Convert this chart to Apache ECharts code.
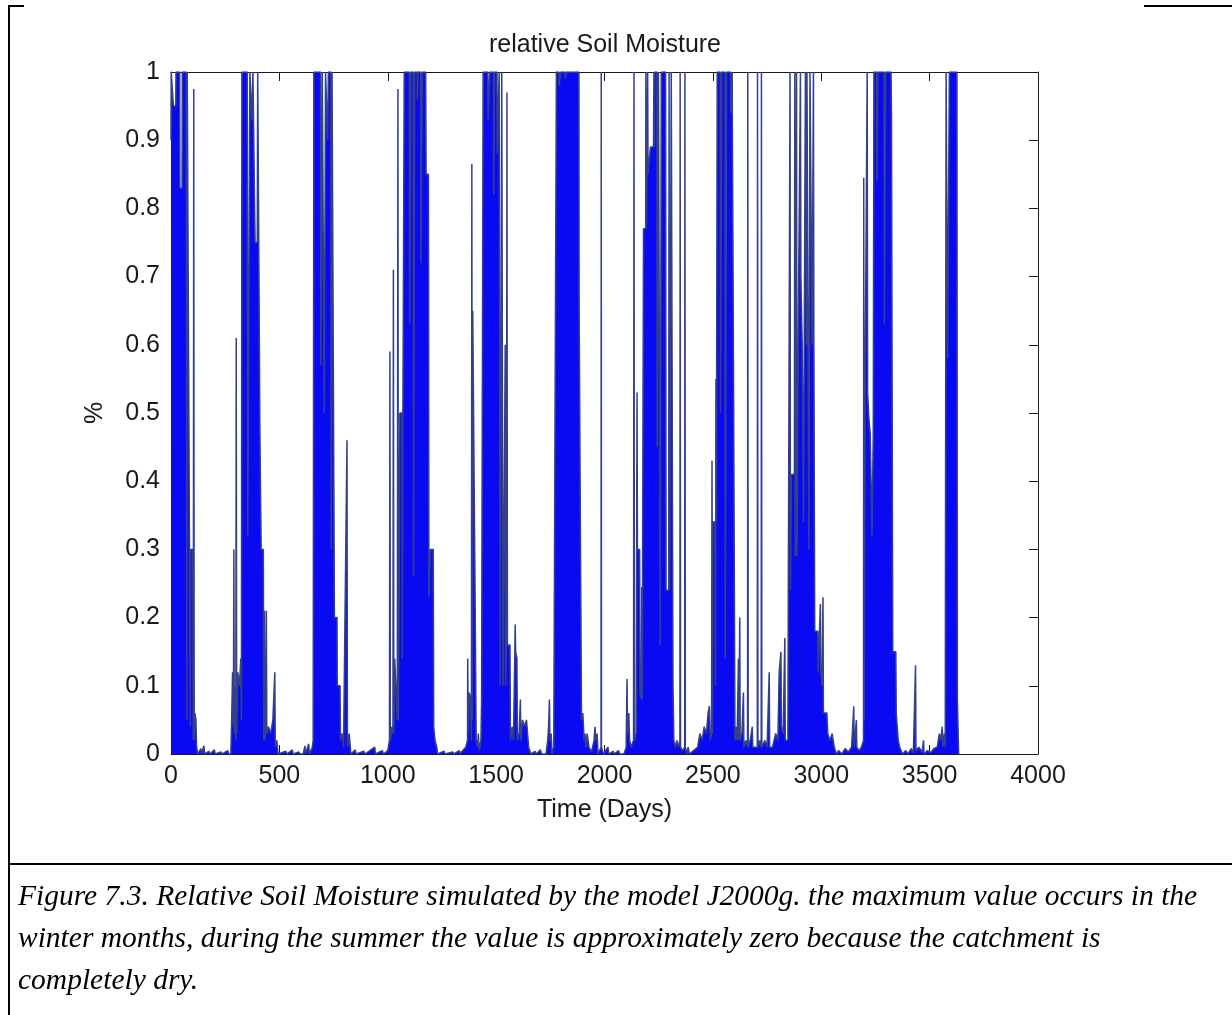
<!DOCTYPE html>
<html>
<head>
<meta charset="utf-8">
<title>relative Soil Moisture</title>
<script src="https://cdn.jsdelivr.net/npm/echarts@6/dist/echarts.min.js"></script>
<style>
  html, body { margin: 0; padding: 0; background: #ffffff; }
  #chart { width: 1232px; height: 1015px; }
</style>
</head>
<body>
<div id="chart"></div>
<script>
// Relative soil moisture [day, fraction] simulated by J2000g, one array per hydrological year.
const soilYear1 = [[0,0.9],[1,1],[10,1],[11,0.95],[22,0.95],[23,1],[40,1],[41,0.83],[51,0.83],[52,1],[71,1],[73,0.05],[75,1],[79,1],[80,0.66],[87,0.66],[89,0.04],[91,0.3],[101,0.3],[103,0.02],[105,0.975],[107,0.02],[110,0.06],[115,0.05],[118,0.01],[124,0],[138,0.008],[141,0],[152,0.012],[155,0],[175,0.004],[180,0],[200,0.006],[204,0],[230,0.003],[236,0],[262,0.005],[266,0]];
const soilYear2 = [[276,0],[280,0.05],[284,0.12],[288,0.04],[290,0.3],[292,0.03],[296,0.1],[299,0.02],[301,0.61],[303,0.03],[308,0.12],[316,0.1],[322,0.14],[325,0.05],[327,1],[352,1],[354,0.32],[362,0.32],[364,1],[372,1],[373,0.93],[377,0.93],[378,1],[386,1],[388,0.75],[398,0.75],[400,1],[408,1],[410,0.48],[414,0.48],[416,0.3],[426,0.3],[428,0.02],[431,0.21],[433,0.02],[437,0.04],[440,0.21],[442,0.03],[450,0.04],[460,0.03],[470,0.05],[479,0.12],[481,0.01],[488,0.02],[494,0],[530,0.004],[534,0],[560,0.006],[563,0],[590,0.003],[594,0]];
const soilYear3 = [[610,0],[618,0.012],[621,0],[635,0.015],[639,0],[652,0.01],[656,0.02],[659,1],[690,1],[691,0.57],[697,0.57],[698,1],[706,1],[707,0.5],[712,0.5],[713,1],[722,1],[723,0.9],[725,0.9],[726,1],[738,1],[739,0.3],[742,0.3],[743,1],[752,1],[754,0.2],[766,0.2],[767,0.1],[780,0.1],[782,0.02],[790,0.03],[796,0.01],[812,0.46],[814,0.01],[822,0.03],[830,0],[850,0.006],[854,0],[890,0.004],[895,0],[940,0.01],[943,0],[975,0.005],[980,0]];
const soilYear4 = [[1000,0.005],[1008,0.02],[1010,0.59],[1012,0.02],[1018,0.04],[1024,0.03],[1026,0.71],[1028,0.03],[1032,0.14],[1040,0.14],[1044,0.05],[1047,0.975],[1049,0.05],[1052,0.2],[1056,0.5],[1066,0.5],[1067,0.14],[1070,0.5],[1074,0.5],[1076,1],[1100,1],[1101,0.63],[1106,0.63],[1107,1],[1118,1],[1119,0.26],[1123,0.26],[1124,1],[1136,1],[1137,0.96],[1139,0.96],[1140,1],[1152,1],[1153,0.72],[1158,0.72],[1159,1],[1175,1],[1177,0.85],[1188,0.85],[1190,0.23],[1194,0.23],[1196,0.3],[1210,0.3],[1212,0.04],[1218,0.02],[1226,0.01],[1230,0],[1260,0.004],[1264,0],[1300,0.003],[1305,0],[1330,0.005],[1334,0]];
const soilYear5 = [[1340,0.003],[1360,0.01],[1368,0.02],[1369,0.14],[1371,0.03],[1376,0.09],[1382,0.08],[1386,0.02],[1388,0.865],[1390,0.05],[1392,0.65],[1400,0.65],[1402,0.27],[1406,0.27],[1408,0.02],[1414,0.01],[1418,0.03],[1422,0.005],[1430,0.02],[1433,0.08],[1438,0.08],[1440,1],[1462,1],[1463,0.93],[1470,0.93],[1471,1],[1488,1],[1489,0.82],[1492,0.82],[1493,1],[1504,1],[1505,0.88],[1512,0.88],[1514,1],[1518,1],[1519,0.1],[1524,0.1],[1526,1],[1530,1],[1532,0.1],[1540,0.1],[1542,0.6],[1544,0.1],[1548,0.16],[1550,0.97],[1552,0.16],[1564,0.16],[1566,0.02],[1574,0.04],[1580,0.02],[1588,0.19],[1590,0.15],[1596,0.14],[1598,0.02],[1606,0.03],[1612,0.08],[1614,0.02],[1622,0.05],[1630,0.04],[1640,0.05],[1650,0.01],[1660,0],[1680,0.004],[1684,0],[1705,0.006],[1709,0]];
const soilYear6 = [[1730,0],[1738,0.02],[1742,0.04],[1746,0.08],[1748,0.02],[1754,0.03],[1758,0],[1766,0.01],[1770,0.35],[1777,0.35],[1778,1],[1790,1],[1791,0.98],[1796,0.98],[1797,1],[1818,1],[1819,0.99],[1823,0.99],[1824,1],[1882,1],[1883,0.65],[1892,0.65],[1894,0.05],[1900,0.06],[1906,0.02],[1910,0.03],[1914,0.01],[1920,0.03],[1928,0.01],[1940,0.003],[1952,0.02],[1956,0.04],[1960,0.02],[1966,0.03],[1970,0],[1984,0.01],[1985,1],[1986,0.01],[1995,0],[2016,0.01],[2020,0],[2040,0.004],[2045,0],[2065,0.005],[2070,0]];
const soilYear7 = [[2090,0],[2100,0.01],[2104,0.11],[2106,0.03],[2112,0.06],[2116,0.02],[2122,0.01],[2134,0.02],[2136,1],[2138,0.02],[2146,0.03],[2150,0.53],[2152,0.3],[2162,0.3],[2164,0.09],[2170,0.08],[2172,0.245],[2174,0.08],[2180,0.77],[2190,0.77],[2191,1],[2193,0.77],[2196,0.85],[2199,1],[2201,0.85],[2210,0.85],[2212,0.89],[2226,0.89],[2228,1],[2230,0.89],[2232,1],[2242,1],[2243,0.45],[2248,0.45],[2249,1],[2256,1],[2257,0.16],[2261,0.16],[2262,1],[2282,1],[2284,0.24],[2296,0.24],[2298,1],[2300,0.24],[2306,0.24],[2308,1],[2312,1],[2316,0.1],[2320,0.02],[2326,0.01],[2334,0.02],[2340,0.01],[2348,0.02],[2349,1],[2351,0.01],[2360,0.005],[2370,0.01],[2371,1],[2373,0.01],[2380,0],[2386,0.01],[2392,0]];
const soilYear8 = [[2400,0],[2430,0.01],[2440,0.03],[2450,0.02],[2460,0.04],[2470,0.03],[2478,0.06],[2484,0.07],[2488,0.02],[2494,0.03],[2496,0.43],[2498,0.03],[2500,0.34],[2510,0.34],[2512,0.1],[2514,0.55],[2516,0.34],[2520,1],[2534,1],[2535,0.5],[2540,0.5],[2541,1],[2556,1],[2557,0.14],[2562,0.14],[2563,1],[2582,1],[2583,0.94],[2588,0.94],[2589,1],[2594,1],[2596,0.5],[2600,0.5],[2602,0.02],[2606,0.04],[2612,0.02],[2618,0.14],[2620,0.02],[2624,0.2],[2626,0.02],[2634,0.03],[2641,0.09],[2643,0.01],[2652,0.02],[2660,0.01],[2661,1],[2663,0.01],[2672,0.02],[2682,0.04],[2684,0.01],[2695,0.01],[2705,0.01],[2706,1],[2708,0.01],[2716,0.02],[2723,0.01],[2724,1],[2726,0.01],[2740,0.02],[2750,0.01],[2760,0.12],[2762,0.01],[2775,0.01],[2790,0.03],[2800,0.02],[2806,0.12],[2812,0.12],[2814,0.15],[2816,0.04],[2824,0.03],[2832,0.17],[2834,0.02],[2842,0.02]];
const soilYear9 = [[2846,0.02],[2848,0.24],[2854,0.24],[2856,1],[2858,0.24],[2862,0.41],[2876,0.41],[2878,1],[2880,0.29],[2884,0.29],[2886,1],[2888,0.29],[2894,0.29],[2896,0.7],[2902,0.7],[2904,1],[2906,0.7],[2910,0.7],[2912,0.6],[2918,0.34],[2926,0.34],[2927,1],[2930,1],[2932,0.6],[2934,1],[2942,1],[2943,0.3],[2946,0.3],[2948,1],[2956,1],[2958,0.6],[2962,0.6],[2964,1],[2966,0.6],[2968,0.6],[2970,0.18],[2984,0.18],[2986,0.12],[2994,0.12],[2996,0.22],[2998,0.12],[3004,0.1],[3008,0.23],[3010,0.06],[3026,0.06],[3030,0.03],[3040,0.02],[3050,0.03],[3060,0.01],[3070,0],[3080,0.005],[3095,0],[3110,0.008],[3125,0.003],[3140,0.01],[3150,0.07],[3152,0.01],[3162,0.05],[3164,0.01],[3175,0.005],[3185,0.01]];
const soilYear10 = [[3190,0.01],[3195,0.02],[3196,0.845],[3198,0.05],[3202,0.53],[3210,0.53],[3212,1],[3214,0.53],[3220,0.49],[3226,0.47],[3232,0.47],[3234,0.32],[3238,0.32],[3240,0.47],[3242,0.47],[3243,1],[3256,1],[3257,0.84],[3260,0.84],[3261,1],[3290,1],[3291,0.63],[3296,0.63],[3297,1],[3322,1],[3324,0.94],[3328,0.94],[3330,0.15],[3344,0.15],[3346,0.06],[3352,0.06],[3355,0.02],[3362,0.01],[3375,0],[3390,0.005],[3400,0],[3415,0.008],[3425,0.002],[3435,0.13],[3437,0.005],[3450,0.01],[3465,0.003],[3472,0.02],[3474,0],[3490,0.005],[3505,0.002],[3520,0.008],[3535,0.01],[3545,0.03],[3552,0.02],[3558,0.04],[3562,0.01],[3568,0.03],[3572,0.01]];
const soilYear11 = [[3574,0.01],[3576,1],[3582,1],[3583,0.58],[3590,0.58],[3591,1],[3626,1],[3628,0.08],[3632,0.08],[3634,0]];

// Axis tick values
const dayTicks = [0, 500, 1000, 1500, 2000, 2500, 3000, 3500, 4000];
const moistureTicks = [0, 0.1, 0.2, 0.3, 0.4, 0.5, 0.6, 0.7, 0.8, 0.9, 1];

const soilMoisture = [].concat(
  soilYear1, soilYear2, soilYear3, soilYear4, soilYear5, soilYear6,
  soilYear7, soilYear8, soilYear9, soilYear10, soilYear11
);

const captionLines = [
  'Figure 7.3. Relative Soil Moisture simulated by the model J2000g. the maximum value occurs in the',
  'winter months, during the summer the value is approximately zero because the catchment is',
  'completely dry.'
];

const AXIS_FONT = '"Liberation Sans", Arial, Helvetica, sans-serif';
const INK = '#1a1a1a';

function axisCommon(showLabels) {
  return {
    type: 'value',
    axisLine: { show: true, onZero: false, lineStyle: { color: INK, width: 1 } },
    axisTick: { show: true, inside: true, length: 9, lineStyle: { color: INK, width: 1 } },
    axisLabel: {
      show: showLabels, fontSize: 25, color: INK, fontFamily: AXIS_FONT,
      formatter: (v) => String(Math.round(v * 10) / 10)
    },
    splitLine: { show: false }
  };
}

const dayStep = dayTicks[1] - dayTicks[0];
const moistStep = Math.round((moistureTicks[1] - moistureTicks[0]) * 10) / 10;

const xBottom = Object.assign(axisCommon(true), {
  position: 'bottom',
  min: dayTicks[0], max: dayTicks[dayTicks.length - 1], interval: dayStep,
  name: 'Time (Days)', nameLocation: 'middle', nameGap: 44,
  nameTextStyle: { fontSize: 25, color: INK, fontFamily: AXIS_FONT }
});
xBottom.axisLabel.margin = 10;
const xTop = Object.assign(axisCommon(false), {
  position: 'top',
  min: dayTicks[0], max: dayTicks[dayTicks.length - 1], interval: dayStep
});
const yLeft = Object.assign(axisCommon(true), {
  position: 'left',
  min: moistureTicks[0], max: moistureTicks[moistureTicks.length - 1], interval: moistStep,
  name: '%', nameLocation: 'middle', nameGap: 63, nameRotate: 90,
  nameTextStyle: { fontSize: 25, color: INK, fontFamily: AXIS_FONT }
});
yLeft.axisLabel.margin = 11;
const yRight = Object.assign(axisCommon(false), {
  position: 'right',
  min: moistureTicks[0], max: moistureTicks[moistureTicks.length - 1], interval: moistStep
});

const chart = echarts.init(document.getElementById('chart'), null, { renderer: 'canvas' });

const borderStyle = { stroke: '#000000', lineWidth: 2 };

chart.setOption({
  backgroundColor: '#ffffff',
  animation: false,
  title: {
    text: 'relative Soil Moisture',
    left: 600,
    textAlign: 'center',
    top: 28,
    textStyle: { fontSize: 25, fontWeight: 'normal', color: INK, fontFamily: AXIS_FONT }
  },
  grid: { left: 171, right: 194, top: 72, bottom: 261, containLabel: false },
  xAxis: [xBottom, xTop],
  yAxis: [yLeft, yRight],
  series: [{
    type: 'line',
    xAxisIndex: 0,
    yAxisIndex: 0,
    data: soilMoisture,
    showSymbol: false,
    symbol: 'none',
    smooth: false,
    clip: true,
    lineStyle: { color: '#34408a', width: 1.5 },
    areaStyle: { color: '#0a0af2', opacity: 1, origin: 'start' },
    emphasis: { disabled: true }
  }],
  graphic: [
    // table cell borders around the figure
    { type: 'line', shape: { x1: 9, y1: 6, x2: 9, y2: 1015 }, style: borderStyle },
    { type: 'line', shape: { x1: 8, y1: 6, x2: 24, y2: 6 }, style: borderStyle },
    { type: 'line', shape: { x1: 1144, y1: 6, x2: 1232, y2: 6 }, style: borderStyle },
    { type: 'line', shape: { x1: 8, y1: 864, x2: 1232, y2: 864 }, style: borderStyle },
    // caption
    ...captionLines.map((line, i) => ({
      type: 'text',
      x: 18,
      y: 897 + i * 42,
      style: {
        text: line,
        fontSize: 29.5,
        fontStyle: 'italic',
        fontFamily: '"Liberation Serif", "Times New Roman", serif',
        fill: '#000000',
        verticalAlign: 'middle',
        align: 'left'
      }
    }))
  ]
});
</script>
</body>
</html>
